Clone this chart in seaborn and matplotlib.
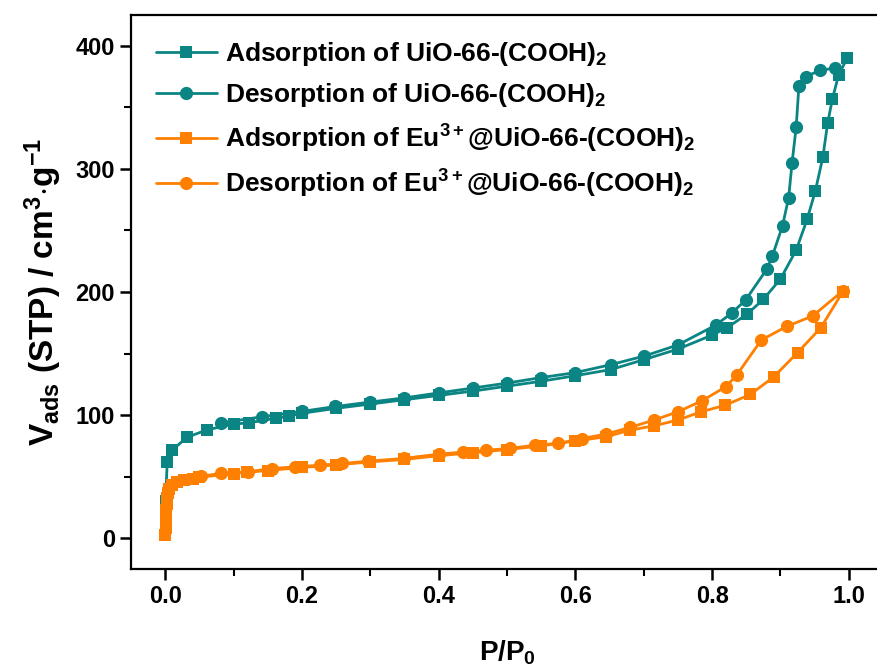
import numpy as np
import pandas as pd
import matplotlib
matplotlib.use("Agg")
import matplotlib.pyplot as plt
import seaborn as sns
from matplotlib.ticker import MultipleLocator

# isotherm data
uio_ads_p = [0.0005, 0.003, 0.01, 0.032, 0.061, 0.1, 0.122, 0.162, 0.181, 0.2, 0.25, 0.3, 0.35,
             0.4, 0.45, 0.5, 0.55, 0.6, 0.652, 0.7, 0.75, 0.8, 0.822, 0.851, 0.875, 0.9,
             0.923, 0.939, 0.951, 0.962, 0.969, 0.976, 0.985, 0.9975]
uio_ads_v = [30, 62, 71.5, 82, 88, 92.7, 93.7, 97.5, 99, 101.5, 105.5, 109, 112.5,
             116, 119.5, 123.5, 127.5, 132, 137, 145, 153.6, 165, 171, 182, 194, 210.6,
             234, 259, 282, 309.5, 337, 357, 376, 390]

uio_des_p = [0.98, 0.958, 0.937, 0.927, 0.923, 0.917, 0.912, 0.903, 0.888, 0.88, 0.849, 0.829,
             0.805, 0.75, 0.701, 0.652, 0.6, 0.55, 0.5, 0.45, 0.4, 0.35, 0.3, 0.249, 0.2,
             0.141, 0.082]
uio_des_v = [382, 380, 375, 367.5, 334, 305, 276.7, 253.7, 229, 218.5, 193.5, 183,
             173, 157, 148, 141, 134.5, 130.5, 126, 122, 118, 114, 110.6, 107, 103,
             98.6, 93.7]

eu_ads_p = [0.0002, 0.0005, 0.0008, 0.001, 0.0015, 0.002, 0.003, 0.004, 0.006, 0.01, 0.018,
            0.027, 0.04, 0.05, 0.1, 0.12, 0.15, 0.2, 0.25, 0.3, 0.35, 0.4, 0.45, 0.5, 0.55,
            0.6, 0.645, 0.68, 0.715, 0.75, 0.784, 0.819, 0.856, 0.89, 0.925, 0.959, 0.991]
eu_ads_v = [3, 8, 13, 18, 23, 28, 33, 37, 40, 43, 45.5,
            47, 48.5, 49.5, 52.5, 53.5, 55, 57.5, 59.5, 62, 64, 67, 69.5, 72, 75,
            79, 82.4, 87.8, 91.3, 96, 102.7, 108, 116.8, 131, 150.7, 171, 200]

eu_des_p = [0.991, 0.947, 0.909, 0.872, 0.836, 0.82, 0.785, 0.75, 0.715, 0.68, 0.645, 0.61,
            0.575, 0.541, 0.505, 0.47, 0.436, 0.4, 0.349, 0.297, 0.259, 0.226, 0.19, 0.156,
            0.121, 0.082, 0.052]
eu_des_v = [200.8, 180.5, 172, 161, 132.5, 123, 111.6, 102.7, 96, 90, 84.6, 81,
            77, 75.6, 73, 71.5, 70, 68.3, 64.8, 62.6, 60.7, 59.3, 58, 56.6,
            54, 52.6, 50.4]

labels = [r"Adsorption of UiO-66-(COOH)$_2$",
          r"Desorption of UiO-66-(COOH)$_2$",
          r"Adsorption of Eu$^{3+}$@UiO-66-(COOH)$_2$",
          r"Desorption of Eu$^{3+}$@UiO-66-(COOH)$_2$"]

teal = "#0b8484"
orange = "#ff8000"

sns.set_theme(style="ticks")
plt.rcParams["font.family"] = ["Liberation Sans", "DejaVu Sans"]
plt.rcParams["font.weight"] = "bold"
plt.rcParams["mathtext.fontset"] = "custom"
plt.rcParams["mathtext.rm"] = "Liberation Sans:bold"
plt.rcParams["mathtext.bf"] = "Liberation Sans:bold"
plt.rcParams["mathtext.it"] = "Liberation Sans:bold"
plt.rcParams["mathtext.default"] = "bf"
for k in ["text.color", "axes.labelcolor", "xtick.color", "ytick.color", "axes.edgecolor"]:
    plt.rcParams[k] = "black"

fig = plt.figure(figsize=(8.77, 6.68), dpi=100)
ax = fig.add_axes([131 / 877, 1 - 569 / 668, 752 / 877, 554 / 668])

series = [
    (uio_ads_p, uio_ads_v, teal, "s", 8),
    (uio_des_p, uio_des_v, teal, "o", 9.5),
    (eu_ads_p, eu_ads_v, orange, "s", 8),
    (eu_des_p, eu_des_v, orange, "o", 9.5),
]
for (p, v, c, m, ms), lab in zip(series, labels):
    df = pd.DataFrame({"p": p, "v": v})
    sns.lineplot(data=df, x="p", y="v", ax=ax, sort=False, estimator=None,
                 color=c, marker=m, markersize=ms, markeredgewidth=0,
                 linewidth=2.0, label=lab)

ax.set_xlim(-0.05, 1.05)
ax.set_ylim(-25, 425)
ax.xaxis.set_major_locator(MultipleLocator(0.2))
ax.xaxis.set_minor_locator(MultipleLocator(0.1))
ax.yaxis.set_major_locator(MultipleLocator(100))
ax.yaxis.set_minor_locator(MultipleLocator(50))
ax.xaxis.set_major_formatter(matplotlib.ticker.FormatStrFormatter("%.1f"))
ax.tick_params(which="major", direction="out", length=8, width=1.8, labelsize=17)
ax.tick_params(which="minor", direction="out", length=5, width=1.5)
for s in ax.spines.values():
    s.set_linewidth(1.6)

ax.set_xlabel(r"P/P$_0$", fontsize=20, fontweight="bold", labelpad=22)
ax.set_ylabel(r"V$_{ads}$ (STP) / cm$^3$$\cdot$g$^{-1}$", fontsize=24,
              fontweight="bold", labelpad=8)

ax.legend(loc="upper left", frameon=False, fontsize=19, handlelength=2.3,
          labelspacing=0.5, borderaxespad=0.45, handletextpad=0.3,
          borderpad=0.5)

fig.savefig("out.png", dpi=100)
